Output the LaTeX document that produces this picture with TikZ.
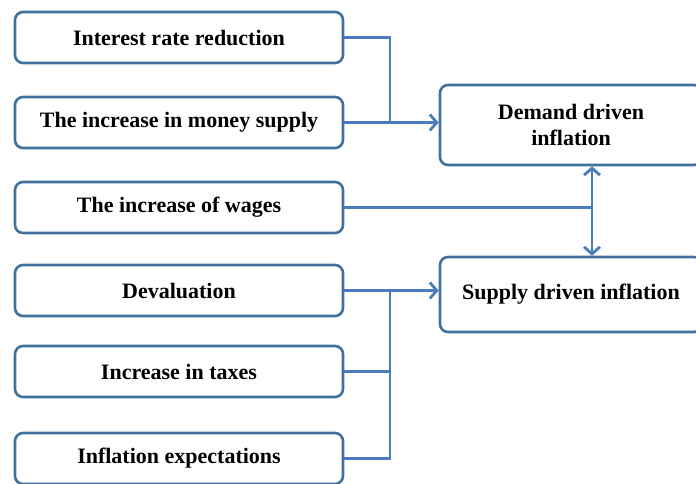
\documentclass[tikz,border=0pt]{standalone}
\usepackage{fontspec}
\setmainfont{Liberation Serif}
\usepackage{tikz}
\usetikzlibrary{arrows.meta}
\definecolor{linkblue}{HTML}{4A7EBB}
\definecolor{boxblue}{HTML}{41719C}
\tikzset{
  factor/.style={draw=boxblue, line width=2.6pt, rounded corners=8pt, fill=white,
    minimum width=328pt, minimum height=51pt, inner sep=0pt,
    font=\fontsize{22}{26}\selectfont\bfseries},
  result/.style={factor, minimum width=262pt, align=center},
  link/.style={draw=linkblue, line width=2.8pt},
  every edge/.style={link}
}

\begin{document}
\begin{tikzpicture}[x=1pt, y=-1pt, >={Straight Barb[length=7pt,width=16pt,line width=2.8pt]}]  % causes of inflation
    \path[use as bounding box] (0, 0) rectangle (696, 483);
    \clip (0, 0) rectangle (696, 483);

    \node[factor] at (179, 37.5) (rate) {Interest rate reduction};
    \node[factor] at (179, 122.5) (money) {The increase in money supply};
    \node[factor] at (179, 207.5) (wages) {The increase of wages};
    \node[factor] at (179, 290.5) (deval) {Devaluation};
    \node[factor] at (179, 371.5) (taxes) {Increase in taxes};
    \node[factor] at (179, 458.5) (expect) {Inflation expectations};

    \node[result, minimum height=80pt] at (571, 125) (demand) {Demand driven\\inflation};
    \node[result, minimum height=75pt] at (571, 294.5) (supply) {Supply driven inflation};

    \coordinate (J1) at (390, 122.5);
    \coordinate (J2) at (390, 290.5);
    \coordinate (JW) at (592, 207.5);

    \draw[link] (rate.east) -| (J1);
    \draw (money.east) edge[->] (money.east -| demand.west);

    \draw[link] (wages.east) -- (JW);
    \draw (demand.south -| JW) edge[<->] (supply.north -| JW);

    \draw (deval.east) edge[->] (deval.east -| supply.west);
    \draw[link] (taxes.east) -- (taxes.east -| J2);
    \draw[link] (expect.east) -| (J2);
\end{tikzpicture}
\end{document}
